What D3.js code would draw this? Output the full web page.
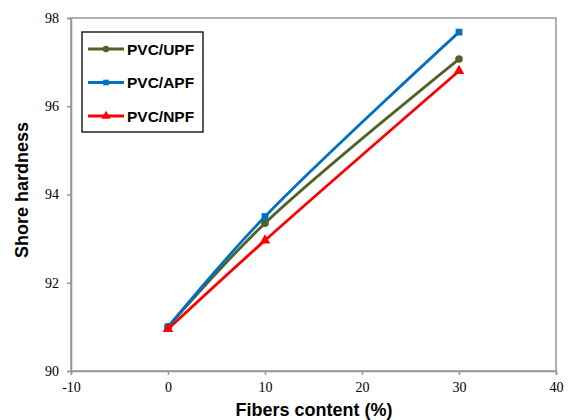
<!DOCTYPE html>
<html>
<head>
<meta charset="utf-8">
<script src="https://cdn.jsdelivr.net/npm/d3@7"></script>
<style>
  body { margin: 0; background: #fff; }
</style>
</head>
<body>
<div id="chart"></div>
<script>
// ─── data ─────────────────────────────────────────────────────────
const fibers  = [0, 10, 30];
const upf     = [91.0, 93.35, 97.07];
const apf     = [91.0, 93.5, 97.68];
const npf     = [90.95, 92.96, 96.8];
const xTicks  = [-10, 0, 10, 20, 30, 40];
const yTicks  = [90, 92, 94, 96, 98];

const series = [
    { name: "PVC/UPF", values: upf, color: "#4F6228", marker: "circle" },
    { name: "PVC/APF", values: apf, color: "#0070C0", marker: "square" },
    { name: "PVC/NPF", values: npf, color: "#FF0000", marker: "triangle" }
];

// ─── layout ───────────────────────────────────────────────────────
const width  = 570;
const height = 420;
const plotL = 71, plotR = 556, plotT = 18, plotB = 371;
const axisGrey = "#969696";

const svg = d3.select("#chart")
    .append("svg")
    .attr("width", width)
    .attr("height", height);

const x = d3.scaleLinear().domain([-10, 40]).range([plotL, plotR]);
const y = d3.scaleLinear().domain([90, 98]).range([plotB, plotT]);

// plot frame
svg.append("rect")
    .attr("x", plotL)
    .attr("y", plotT)
    .attr("width", plotR - plotL)
    .attr("height", plotB - plotT)
    .attr("fill", "none")
    .attr("stroke", axisGrey)
    .attr("stroke-width", 1.5);

// ─── axes ─────────────────────────────────────────────────────────
const xAxis = svg.append("g")
    .attr("transform", `translate(0, ${plotB})`)
    .call(d3.axisBottom(x).tickValues(xTicks).tickFormat(d => String(d))
        .tickSize(4).tickPadding(7));

const yAxis = svg.append("g")
    .attr("transform", `translate(${plotL}, 0)`)
    .call(d3.axisLeft(y).tickValues(yTicks).tickFormat(d => String(d))
        .tickSize(4).tickPadding(8));

[xAxis, yAxis].forEach(g => {
    g.select(".domain").attr("stroke", axisGrey).attr("stroke-width", 1.5);
    g.selectAll(".tick line").attr("stroke", axisGrey).attr("stroke-width", 1.5);
    g.selectAll(".tick text")
        .style("font-family", "'Liberation Serif', 'Times New Roman', serif")
        .style("font-size", "14px")
        .attr("fill", "#000");
});

// axis titles
svg.append("text")
    .attr("x", 314)
    .attr("y", 416)
    .attr("text-anchor", "middle")
    .style("font-family", "'Liberation Sans', Arial, sans-serif")
    .style("font-size", "18px")
    .style("font-weight", "bold")
    .text("Fibers content (%)");

svg.append("text")
    .attr("transform", `translate(28, 190) rotate(-90)`)
    .attr("text-anchor", "middle")
    .style("font-family", "'Liberation Sans', Arial, sans-serif")
    .style("font-size", "18px")
    .style("font-weight", "bold")
    .text("Shore hardness");

// ─── lines + markers ──────────────────────────────────────────────
const line = d3.line()
    .x((d, i) => x(fibers[i]))
    .y(d => y(d))
    .curve(d3.curveCatmullRom.alpha(0.5));

const symbolFor = m => m === "circle" ? d3.symbolCircle
                     : m === "square" ? d3.symbolSquare
                     : d3.symbolTriangle;

series.forEach(s => {
    svg.append("path")
        .datum(s.values)
        .attr("d", line)
        .attr("fill", "none")
        .attr("stroke", s.color)
        .attr("stroke-width", 2.8);

    svg.selectAll(null)
        .data(s.values)
        .join("path")
        .attr("transform", (d, i) => `translate(${x(fibers[i])}, ${y(d)})`)
        .attr("d", d3.symbol().type(symbolFor(s.marker)).size(s.marker === "triangle" ? 48 : 46))
        .attr("fill", s.color);
});

// ─── legend ───────────────────────────────────────────────────────
const legend = svg.append("g");

legend.append("rect")
    .attr("x", 82)
    .attr("y", 32)
    .attr("width", 121)
    .attr("height", 100)
    .attr("fill", "#fff")
    .attr("stroke", "#000")
    .attr("stroke-width", 1.3);

series.forEach((s, i) => {
    const ly = 49 + i * 33.5;
    const g = legend.append("g").attr("transform", `translate(0, ${ly})`);

    g.append("line")
        .attr("x1", 88).attr("x2", 124)
        .attr("stroke", s.color)
        .attr("stroke-width", 2.8);

    g.append("path")
        .attr("transform", "translate(106, 0)")
        .attr("d", d3.symbol().type(symbolFor(s.marker)).size(s.marker === "triangle" ? 36 : 32))
        .attr("fill", s.color);

    g.append("text")
        .attr("x", 127)
        .attr("y", 0)
        .attr("dominant-baseline", "central")
        .style("font-family", "'Liberation Sans', Arial, sans-serif")
        .style("font-size", "15.5px")
        .style("font-weight", "bold")
        .text(s.name);
});
</script>
</body>
</html>
